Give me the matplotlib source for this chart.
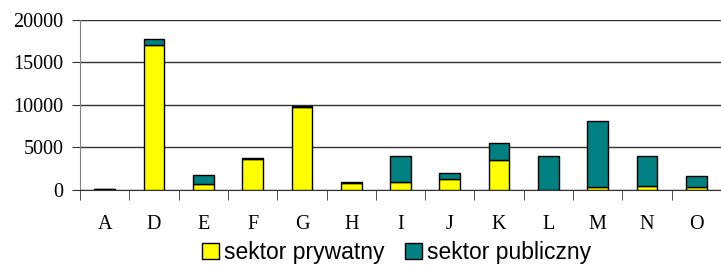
import numpy as np
import matplotlib.pyplot as plt

categories = ['A', 'D', 'E', 'F', 'G', 'H', 'I', 'J', 'K', 'L', 'M', 'N', 'O']
prywatny = [100, 17000, 700, 3600, 9720, 820, 980, 1330, 3490, 20, 320, 510, 390]
publiczny = [60, 800, 1030, 160, 200, 120, 3060, 710, 2080, 4020, 7760, 3450, 1220]

fig = plt.figure(figsize=(7.21, 2.66), dpi=100)
ax = fig.add_axes([0.111, 0.286, 0.889, 0.639])

x = np.arange(len(categories))
w = 0.42
ax.bar(x, prywatny, w, color='#FFFF00', edgecolor='black', linewidth=1,
       label='sektor prywatny', zorder=3)
ax.bar(x, publiczny, w, bottom=prywatny, color='#008080', edgecolor='black',
       linewidth=1, label='sektor publiczny', zorder=3)

ax.set_xlim(-0.5, len(categories) - 0.5)
ax.set_ylim(0, 20000)
ax.set_yticks(range(0, 20001, 5000))
ax.yaxis.grid(True, color='#333333', linewidth=1, zorder=0)

ax.set_xticks(x)
ax.set_xticklabels(categories)
ax.set_xticks(np.arange(-0.5, len(categories), 1), minor=True)
ax.tick_params(axis='x', which='major', length=0, pad=18)
ax.tick_params(axis='x', which='minor', length=7, direction='out', color='#333333')
ax.tick_params(axis='y', length=6, direction='out', color='#333333', pad=6)

for lab in ax.get_xticklabels() + ax.get_yticklabels():
    lab.set_family('Liberation Serif')
    lab.set_fontsize(14.5)

ax.spines['top'].set_visible(False)
ax.spines['right'].set_visible(False)
ax.spines['left'].set_color('#808080')
ax.spines['bottom'].set_color('#333333')

leg = fig.legend(loc='lower center', bbox_to_anchor=(0.55, -0.07), ncol=2,
                 frameon=False, prop={'family': 'Liberation Sans', 'size': 16.5},
                 handlelength=0.75, handleheight=0.75, handletextpad=0.2,
                 columnspacing=0.9)

fig.savefig('out.png', dpi=100)
